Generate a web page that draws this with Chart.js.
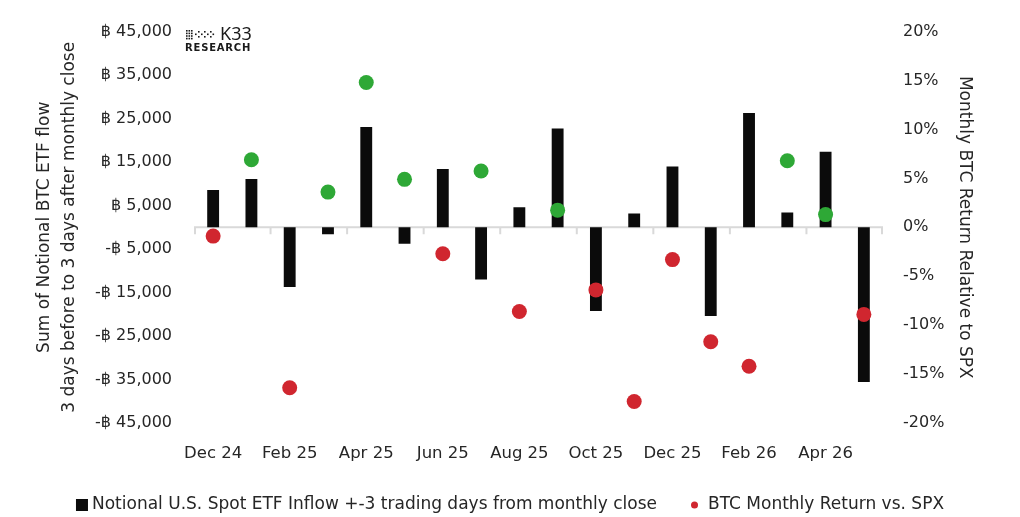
<!DOCTYPE html>
<html>
<head>
<meta charset="utf-8">
<script src="https://cdn.jsdelivr.net/npm/chart.js@4.4.1/dist/chart.umd.min.js"></script>
<style>
  html, body { margin: 0; padding: 0; background: #fff; }
  #wrap { width: 1020px; height: 517px; position: relative; }
</style>
</head>
<body>
<div id="wrap"><canvas id="chart" width="1020" height="517"></canvas></div>
<script>
// Months, Dec 2024 -> May 2026
const MONTHS = ["Dec 24","Jan 25","Feb 25","Mar 25","Apr 25","May 25","Jun 25","Jul 25","Aug 25",
  "Sep 25","Oct 25","Nov 25","Dec 25","Jan 26","Feb 26","Mar 26","Apr 26","May 26"];

// Notional spot ETF flow, +-3 trading days around month end (BTC)
const ETF_FLOW = [8600, 11100, -13700, -1600, 23050, -3800, 13400, -12000, 4600,
  22700, -19250, 3150, 14000, -20400, 26300, 3400, 17400, -35600];

// BTC monthly return minus SPX monthly return (%)
const BTC_VS_SPX = [-0.9, 6.9, -16.4, 3.6, 14.8, 4.9, -2.7, 5.75, -8.6,
  1.75, -6.4, -17.8, -3.3, -11.7, -14.2, 6.8, 1.3, -8.9];

const LEFT_TICKS = [-45000, -35000, -25000, -15000, -5000, 5000, 15000, 25000, 35000, 45000];
const RIGHT_TICKS = [-20, -15, -10, -5, 0, 5, 10, 15, 20];

const TEXT = "#262626";
const BAR_COLOR = "#0b0b0b";
const GREEN = "#2ea836";
const RED = "#d0262f";
const FONT = "'DejaVu Sans', sans-serif";

Chart.defaults.font.family = FONT;
Chart.defaults.color = TEXT;

const btcCoin = v => (v < 0 ? "-" : "") + "\u0E3F " + Math.abs(v).toLocaleString("en-US");

// light zero line with a tick mark every two months, like the source's category axis
const zeroAxis = {
  id: "zeroAxis",
  beforeDatasetsDraw(chart){
    const {ctx, chartArea, scales:{x, yL}} = chart;
    const y0 = yL.getPixelForValue(0);
    ctx.save();
    ctx.strokeStyle = "#d9d9d9";
    ctx.lineWidth = 2;
    ctx.beginPath();
    ctx.moveTo(chartArea.left, y0);
    ctx.lineTo(chartArea.right, y0);
    const n = MONTHS.length;
    for(let k = 0; k <= n; k += 2){
      let bx;
      if(k === 0) bx = chartArea.left + 1;
      else if(k === n) bx = chartArea.right - 1;
      else bx = (x.getPixelForValue(k-1) + x.getPixelForValue(k)) / 2;
      ctx.moveTo(bx, y0);
      ctx.lineTo(bx, y0 + 7);
    }
    ctx.stroke();
    ctx.restore();
  }
};

// K33 Research mark, top left of the plot
const logo = {
  id: "logo",
  afterDraw(chart){
    const ctx = chart.ctx;
    ctx.save();
    ctx.fillStyle = "#1a1a1a";
    // dot grid icon
    for(let c = 0; c < 3; c++) for(let r = 0; r < 4; r++) ctx.fillRect(186 + c*2.5, 30 + r*2.6, 1.6, 1.6);
    const sparse = [[195,33.5],[198,31],[198,36],[201,33.5],[204,31],[204,36],[207,33.5],[210,31],[210,36],[212.5,33.5]];
    sparse.forEach(([px,py]) => ctx.fillRect(px, py, 1.6, 1.6));
    ctx.font = "18px 'Noto Sans', sans-serif";
    ctx.textBaseline = "middle";
    ctx.fillText("K33", 220, 35);
    ctx.font = "bold 10px " + FONT;
    ctx.letterSpacing = "0.8px";
    ctx.fillText("RESEARCH", 185, 48);
    ctx.restore();
  }
};

// bottom legend: black square for the bars, small red dot for the returns
const legend = {
  id: "bottomLegend",
  afterDraw(chart){
    const ctx = chart.ctx;
    const bars = chart.data.datasets.find(d => d.yAxisID === "yL");
    const dots = chart.data.datasets.find(d => d.yAxisID === "yR");
    ctx.save();
    ctx.font = "17px " + FONT;
    ctx.textBaseline = "middle";
    const w1 = ctx.measureText(bars.label).width;
    const w2 = ctx.measureText(dots.label).width;
    const total = 12 + 4 + w1 + 34 + 7 + 10 + w2;
    let cx = 510 - total/2;
    const cy = 505;
    ctx.fillStyle = BAR_COLOR;
    ctx.fillRect(cx, cy - 6, 12, 12);
    cx += 16;
    ctx.fillStyle = TEXT;
    ctx.fillText(bars.label, cx, cy);
    cx += w1 + 34;
    ctx.fillStyle = RED;
    ctx.beginPath();
    ctx.arc(cx + 3.5, cy, 3.5, 0, Math.PI*2);
    ctx.fill();
    cx += 17;
    ctx.fillStyle = TEXT;
    ctx.fillText(dots.label, cx, cy);
    ctx.restore();
  }
};

new Chart(document.getElementById("chart").getContext("2d"), {
  type: "bar",
  data: {
    labels: MONTHS,
    datasets: [
      {
        type: "line",
        label: "BTC Monthly Return vs. SPX",
        data: BTC_VS_SPX,
        yAxisID: "yR",
        showLine: false,
        pointRadius: 7.5,
        pointBorderWidth: 0,
        pointBackgroundColor: BTC_VS_SPX.map(v => v >= 0 ? GREEN : RED),
        order: 0
      },
      {
        label: "Notional U.S. Spot ETF Inflow +-3 trading days from monthly close",
        data: ETF_FLOW,
        yAxisID: "yL",
        backgroundColor: BAR_COLOR,
        barPercentage: 0.31,
        categoryPercentage: 1,
        order: 1
      }
    ]
  },
  options: {
    responsive: false,
    animation: false,
    layout: { padding: { top: 28, bottom: 55, left: 0, right: 0 } },
    plugins: { legend: { display: false }, tooltip: { enabled: false } },
    scales: {
      x: {
        afterFit: s => { s.height = 39; },
        grid: { display: false, drawTicks: false },
        border: { display: false },
        ticks: {
          autoSkip: false, maxRotation: 0, padding: 21,
          font: { size: 16.5 },
          callback: (v, i) => i % 2 === 0 ? MONTHS[i] : ""
        }
      },
      yL: {
        position: "left",
        min: -45000, max: 45000,
        afterBuildTicks: s => { s.ticks = LEFT_TICKS.map(v => ({ value: v })); },
        afterFit: s => { s.width = 194; },
        grid: { display: false, drawTicks: false },
        border: { display: false },
        ticks: { padding: 22, font: { size: 16 }, callback: v => btcCoin(v) },
        title: {
          display: true,
          text: ["Sum of Notional BTC ETF flow", "3 days before to 3 days after monthly close"],
          font: { size: 17, lineHeight: 1.47 },
          padding: { top: 32, bottom: 0 }
        }
      },
      yR: {
        position: "right",
        min: -20, max: 20,
        afterBuildTicks: s => { s.ticks = RIGHT_TICKS.map(v => ({ value: v })); },
        afterFit: s => { s.width = 137; },
        grid: { display: false, drawTicks: false },
        border: { display: false },
        ticks: { padding: 20, font: { size: 16 }, callback: v => v + "%" },
        title: {
          display: true,
          text: "Monthly BTC Return Relative to SPX",
          font: { size: 17 },
          padding: { top: 45, bottom: 0 }
        }
      }
    }
  },
  plugins: [zeroAxis, logo, legend]
});
</script>
</body>
</html>
